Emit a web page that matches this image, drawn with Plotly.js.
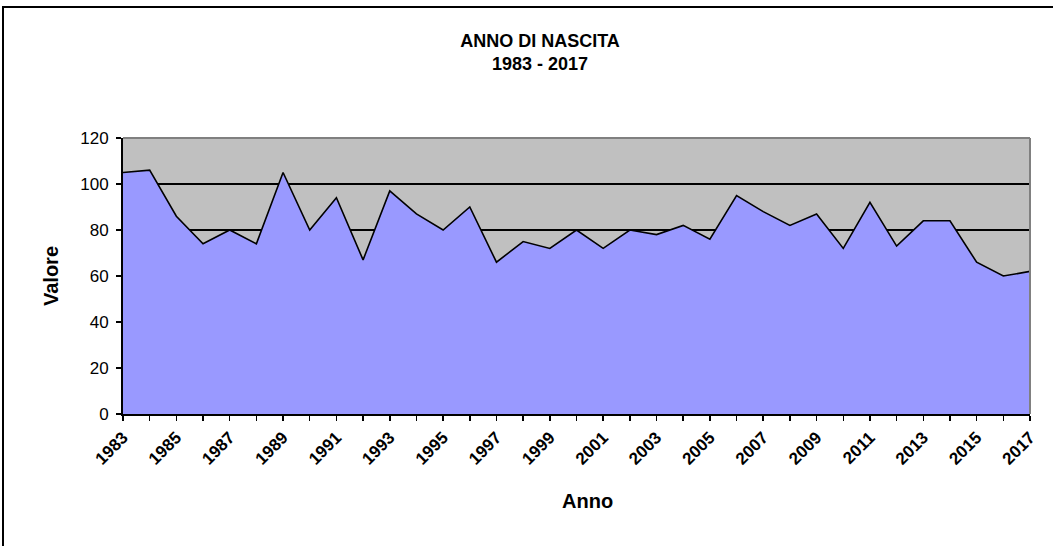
<!DOCTYPE html>
<html>
<head>
<meta charset="utf-8">
<script src="https://cdn.plot.ly/plotly-3.0.1.min.js"></script>
<style>
  html, body { margin: 0; padding: 0; background: #fff; }
  #wrap { position: relative; width: 1053px; height: 546px; overflow: hidden; }
  #chart { width: 1053px; height: 546px; }
  #frame { position: absolute; left: 2px; top: 6px; width: 1100px; height: 600px;
           border-left: 2px solid #000; border-top: 2px solid #000; pointer-events: none; }
</style>
</head>
<body>
<div id="wrap">
  <div id="chart"></div>
  <div id="frame"></div>
</div>
<script>
// Data
const years = [1983, 1984, 1985, 1986, 1987, 1988, 1989, 1990, 1991, 1992,
               1993, 1994, 1995, 1996, 1997, 1998, 1999, 2000, 2001, 2002,
               2003, 2004, 2005, 2006, 2007, 2008, 2009, 2010, 2011, 2012,
               2013, 2014, 2015, 2016, 2017];
const values = [105, 106, 86, 74, 80, 74, 105, 80, 94, 67,
                97, 87, 80, 90, 66, 75, 72, 80, 72, 80,
                78, 82, 76, 95, 88, 82, 87, 72, 92, 73,
                84, 84, 66, 60, 62];
const titleText = 'ANNO DI NASCITA<br>1983 - 2017';
const xTitle = 'Anno';
const yTitle = 'Valore';

const FONT = 'Liberation Sans, Arial, sans-serif';

const trace = {
  x: years,
  y: values,
  type: 'scatter',
  mode: 'lines',
  fill: 'tozeroy',
  fillcolor: '#9999FF',
  line: { color: '#000000', width: 1.6 },
  hoverinfo: 'x+y'
};

const layout = {
  width: 1053,
  height: 546,
  margin: { l: 123, r: 23, t: 138, b: 132 },
  paper_bgcolor: '#FFFFFF',
  plot_bgcolor: '#C0C0C0',
  showlegend: false,
  title: {
    text: titleText,
    font: { family: FONT, size: 18, color: '#000', weight: 'bold' },
    xref: 'container', x: 540 / 1053, xanchor: 'center',
    yref: 'container', y: 1 - 47 / 546, yanchor: 'top'
  },
  xaxis: {
    range: [1983, 2017],
    tick0: 1983,
    dtick: 2,
    tickangle: -45,
    ticks: 'outside',
    ticklen: 5,
    tickwidth: 1.5,
    tickcolor: '#000',
    tickfont: { family: FONT, size: 17, color: '#000', weight: 'bold' },
    minor: { dtick: 1, ticks: 'outside', ticklen: 5, tickwidth: 1.5, tickcolor: '#000', showgrid: false },
    showgrid: false,
    zeroline: false,
    showline: true,
    linecolor: '#000',
    linewidth: 2,
    fixedrange: true
  },
  yaxis: {
    range: [0, 120],
    dtick: 20,
    ticks: 'outside',
    ticklen: 5,
    tickwidth: 1.5,
    tickcolor: '#000',
    ticklabelstandoff: 4,
    tickfont: { family: FONT, size: 17, color: '#000' },
    showgrid: true,
    gridcolor: '#000',
    gridwidth: 1.3,
    zeroline: false,
    showline: true,
    linecolor: '#000',
    linewidth: 2,
    title: { text: yTitle, font: { family: FONT, size: 20, color: '#000', weight: 'bold' }, standoff: 16 },
    fixedrange: true
  },
  annotations: [
    { text: xTitle, xref: 'paper', yref: 'paper',
      x: (587 - 123) / 907, y: (414.3 - 501) / 276.6,
      xanchor: 'center', yanchor: 'middle', showarrow: false,
      font: { family: FONT, size: 20, color: '#000', weight: 'bold' } }
  ],
  shapes: [
    { type: 'line', xref: 'paper', yref: 'paper', x0: 0, x1: 1, y0: 1, y1: 1,
      line: { color: '#808080', width: 2 }, layer: 'above' },
    { type: 'line', xref: 'paper', yref: 'paper', x0: 1, x1: 1, y0: 0, y1: 1,
      line: { color: '#808080', width: 2 }, layer: 'above' }
  ]
};

Plotly.newPlot('chart', [trace], layout, { displayModeBar: false, staticPlot: true });
</script>
</body>
</html>
